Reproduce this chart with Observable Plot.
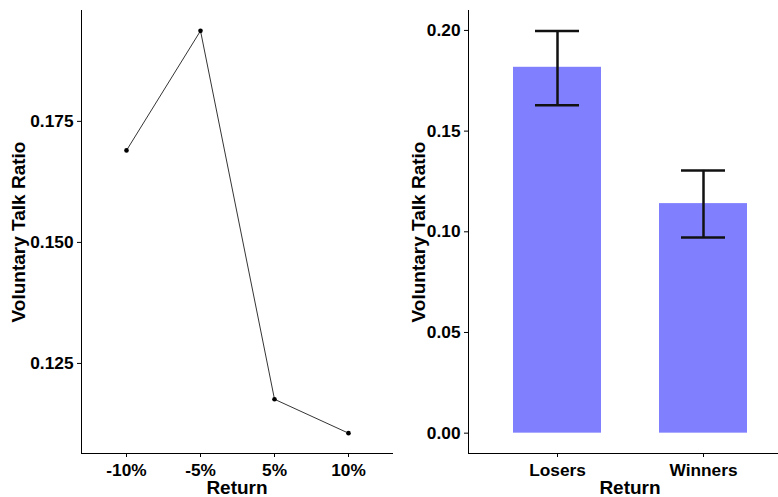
<!DOCTYPE html>
<html><head><meta charset="utf-8">
<script src="https://cdn.jsdelivr.net/npm/d3@7"></script>
<script src="https://cdn.jsdelivr.net/npm/@observablehq/plot@0.6"></script>
<style>
html,body{margin:0;padding:0;background:#fff;overflow:hidden;width:778px;height:497px}
#wrap{position:relative;width:778px;height:497px;overflow:hidden}
#left{position:absolute;left:0;top:0;width:400px}
#right{position:absolute;left:400px;top:0;width:391px}
svg{max-width:none !important}
svg text{font-family:"Liberation Sans",Arial,sans-serif;font-weight:bold}
g[aria-label="x-axis label"] text, g[aria-label="y-axis label"] text{font-size:19px}
</style></head><body>
<div id="wrap"><div id="left"></div><div id="right"></div></div>
<script>
// Left panel data
const returnCats = ["-10%", "-5%", "5%", "10%"];
const returnRatio = [0.1690, 0.1937, 0.1176, 0.1106];
const leftTicks = [0.125, 0.150, 0.175];
// Right panel data
const groupCats = ["Losers", "Winners"];
const groupMean = [0.1817, 0.1140];
const groupLow = [0.1628, 0.0972];
const groupHigh = [0.1997, 0.1305];
const rightTicks = [0, 0.05, 0.10, 0.15, 0.20];

const lineData = returnCats.map((c, i) => ({ret: c, ratio: returnRatio[i]}));
const barData = groupCats.map((c, i) => ({grp: c, mean: groupMean[i], lo: groupLow[i], hi: groupHigh[i]}));

const baseStyle = {fontFamily: "Liberation Sans, Arial, sans-serif", fontSize: "17.3px", fontWeight: "bold", color: "#000", background: "#fff", overflow: "visible", maxWidth: "none"};

const left = Plot.plot({
  width: 400, height: 497,
  marginLeft: 81, marginRight: 8, marginTop: 10, marginBottom: 44,
  style: baseStyle,
  x: {type: "point", domain: returnCats, padding: 0.6, label: "Return", labelArrow: "none", labelAnchor: "center", labelOffset: 40, tickSize: 4, tickPadding: 6, line: true},
  y: {domain: [0.1064, 0.1979], ticks: leftTicks, tickFormat: d3.format(".3f"), label: "Voluntary Talk Ratio", labelArrow: "none", labelAnchor: "center", labelOffset: 70, tickSize: 4, tickPadding: 4, line: true},
  marks: [
    Plot.line(lineData, {x: "ret", y: "ratio", stroke: "#000", strokeWidth: 0.8}),
    Plot.dot(lineData, {x: "ret", y: "ratio", r: 2.3, fill: "#000", stroke: "none"})
  ]
});
document.getElementById("left").appendChild(left);

const right = Plot.plot({
  width: 391, height: 497,
  marginLeft: 68, marginRight: 0, marginTop: 10, marginBottom: 44,
  style: baseStyle,
  x: {type: "band", domain: groupCats, paddingInner: 0.4, paddingOuter: 0.3, label: "Return", labelArrow: "none", labelAnchor: "center", labelOffset: 40, tickSize: 4, tickPadding: 6, line: true},
  y: {domain: [-0.0101, 0.2099], ticks: rightTicks, tickFormat: d3.format(".2f"), label: "Voluntary Talk Ratio", labelArrow: "none", labelAnchor: "center", labelOffset: 57, tickSize: 4, tickPadding: 4, line: true},
  marks: [
    Plot.barY(barData, {x: "grp", y: "mean", fill: "#8080ff"}),
    Plot.ruleX(barData, {x: "grp", y1: "lo", y2: "hi", stroke: "#111", strokeWidth: 2.5}),
    Plot.tickY(barData, {x: "grp", y: "hi", stroke: "#111", strokeWidth: 2.5, insetLeft: 22, insetRight: 22}),
    Plot.tickY(barData, {x: "grp", y: "lo", stroke: "#111", strokeWidth: 2.5, insetLeft: 22, insetRight: 22})
  ]
});
document.getElementById("right").appendChild(right);
</script>
</body></html>
